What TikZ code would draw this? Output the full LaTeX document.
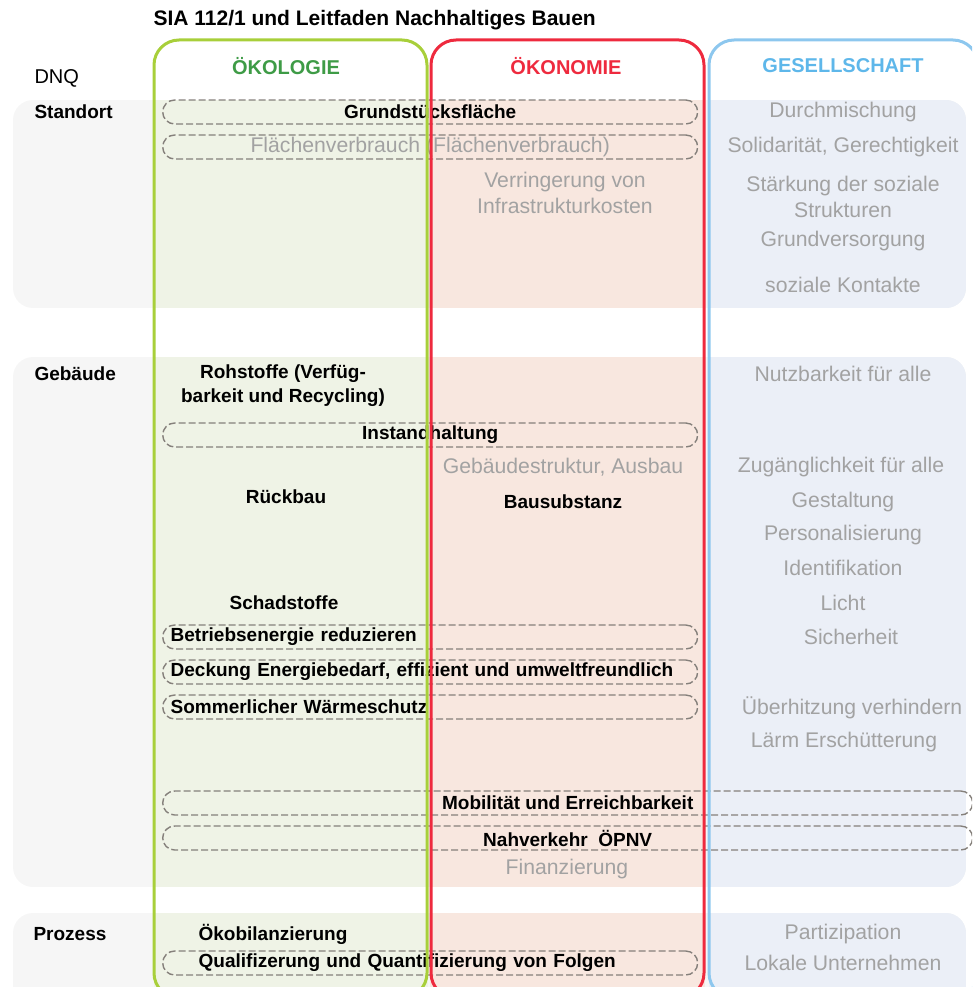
\documentclass[tikz,border=0pt]{standalone}
\usepackage{fontspec}
\setmainfont{Liberation Sans}
\usepackage{xcolor}
\definecolor{gruen}{HTML}{A8CF3A}
\definecolor{gruenfill}{HTML}{EFF3E6}
\definecolor{gruentext}{HTML}{3E9B46}
\definecolor{rot}{HTML}{EE2A3E}
\definecolor{rotfill}{HTML}{F8E7DF}
\definecolor{blau}{HTML}{8DC7EE}
\definecolor{blaufill}{HTML}{EBEFF7}
\definecolor{blautext}{HTML}{5EB7EA}
\definecolor{bandgrau}{HTML}{F6F6F6}
\definecolor{textgrau}{HTML}{A2A2A2}
\definecolor{strichgrau}{HTML}{85807B}

\begin{document}
\begin{tikzpicture}[x=1pt, y=-1pt,
    pill/.style={draw=strichgrau, dashed, dash pattern=on 7pt off 3pt, line width=1.4pt,
      rounded corners=12pt, minimum height=24pt, inner sep=0pt, anchor=west},
    fett/.style={font=\fontsize{19}{24}\selectfont\bfseries},
    grau/.style={font=\fontsize{21.2}{26}\selectfont, text=textgrau, align=center},
    kopf/.style={font=\fontsize{20}{24}\selectfont\bfseries}
]
  \useasboundingbox (0,0) rectangle (972,987);
  \clip (0,0) rectangle (972,987);

  % Zeilen: Standort, Gebaeude, Prozess
  \foreach \ya/\yb in {100/308, 357/887, 913/1010} {
    \begin{scope}
      \clip[rounded corners=20pt] (13,\ya) rectangle (966,\yb);
      \fill[bandgrau] (13,\ya) rectangle (966,\yb);
      \fill[gruenfill] (154,\ya) rectangle (428,\yb);
      \fill[rotfill] (430,\ya) rectangle (705,\yb);
      \fill[blaufill] (709,\ya) rectangle (966,\yb);
    \end{scope}
  }

  % Titel und Kopfzeile
  \node[font=\fontsize{21}{24}\selectfont\bfseries, anchor=west] (titel) at (150,20) {SIA 112/1 und Leitfaden Nachhaltiges Bauen};
  \node[kopf, text=gruentext] (oeko) at (286,66) {ÖKOLOGIE};
  \node[kopf, text=rot] (oekon) at (566,66) {ÖKONOMIE};
  \node[kopf, text=blautext] (gesell) at (843,66) {GESELLSCHAFT};
  \node[font=\fontsize{20}{24}\selectfont, anchor=west] (dnq) at (31,78) {DNQ};

  % Zeilentitel
  \node[fett, anchor=west] (standort) at (31,112) {Standort};
  \node[fett, anchor=west] (gebaeude) at (31,374) {Gebäude};
  \node[fett, anchor=west] (prozess) at (30,934) {Prozess};

  % Standort
  \node[pill, minimum width=535pt, fett] (grund) at (162,112) {Grundstücksfläche};
  \node[pill, minimum width=535pt, grau] (flaeche) at (162,147) {Flächenverbrauch (Flächenverbrauch)};
  \node[grau] (infra) at (565,193) {Verringerung von\\Infrastrukturkosten};
  \node[grau] (durch) at (843,112) {Durchmischung};
  \node[grau] (soli) at (843,147) {Solidarität, Gerechtigkeit};
  \node[grau] (staerk) at (843,197) {Stärkung der soziale\\Strukturen};
  \node[grau] (grundv) at (843,241) {Grundversorgung};
  \node[grau] (kontakt) at (843,285) {soziale Kontakte};

  % Gebaeude
  \node[fett, align=center] (rohstoffe) at (283,386) {Rohstoffe (Verfüg-\\barkeit und Recycling)};
  \node[pill, minimum width=535pt, fett] (instand) at (162,435) {Instandhaltung};
  \node[grau] (struktur) at (563,467) {Gebäudestruktur, Ausbau};
  \node[fett] (rueckbau) at (286,497) {Rückbau};
  \node[fett] (substanz) at (563,502) {Bausubstanz};
  \node[fett] (schad) at (284,603) {Schadstoffe};
  \node[pill, text width=519pt, inner xsep=8pt, align=left, fett] (betrieb) at (162,637) {Betriebsenergie reduzieren};
  \node[pill, text width=519pt, inner xsep=8pt, align=left, fett] (deckung) at (162,672) {Deckung Energiebedarf, effizient und umweltfreundlich};
  \node[pill, text width=519pt, inner xsep=8pt, align=left, fett] (sommer) at (162,707) {Sommerlicher Wärmeschutz};
  \node[pill, minimum width=810pt, fett] (mobil) at (162,803) {Mobilität und Erreichbarkeit};
  \node[pill, minimum width=810pt, fett] (nahv) at (162,838) {Nahverkehr\ \ ÖPNV};
  \node[grau] (finanz) at (567,869) {Finanzierung};
  \node[grau] (nutz) at (843,374) {Nutzbarkeit für alle};
  \node[grau] (zugang) at (841,467) {Zugänglichkeit für alle};
  \node[grau] (gestalt) at (843,502) {Gestaltung};
  \node[grau] (person) at (843,535) {Personalisierung};
  \node[grau] (ident) at (843,568) {Identifikation};
  \node[grau] (licht) at (843,603) {Licht};
  \node[grau] (sicher) at (851,637) {Sicherheit};
  \node[grau] (ueberh) at (852,708) {Überhitzung verhindern};
  \node[grau] (laerm) at (844,742) {Lärm Erschütterung};

  % Prozess
  \node[fett] (bilanz) at (273,934) {Ökobilanzierung};
  \node[pill, text width=463pt, inner xsep=36pt, align=left, fett] (quali) at (162,963) {Qualifizerung und Quantifizierung von Folgen};
  \node[grau] (partiz) at (843,934) {Partizipation};
  \node[grau] (lokal) at (843,963) {Lokale Unternehmen};

  % Spalten
  \draw[gruen, line width=3pt, rounded corners=25pt] (154,40) rectangle (427,998);
  \draw[rot, line width=3pt, rounded corners=25pt] (431,40) rectangle (704,998);
  \draw[blau, line width=3pt, rounded corners=25pt] (709,40) rectangle (978,998);

\end{tikzpicture}
\end{document}
